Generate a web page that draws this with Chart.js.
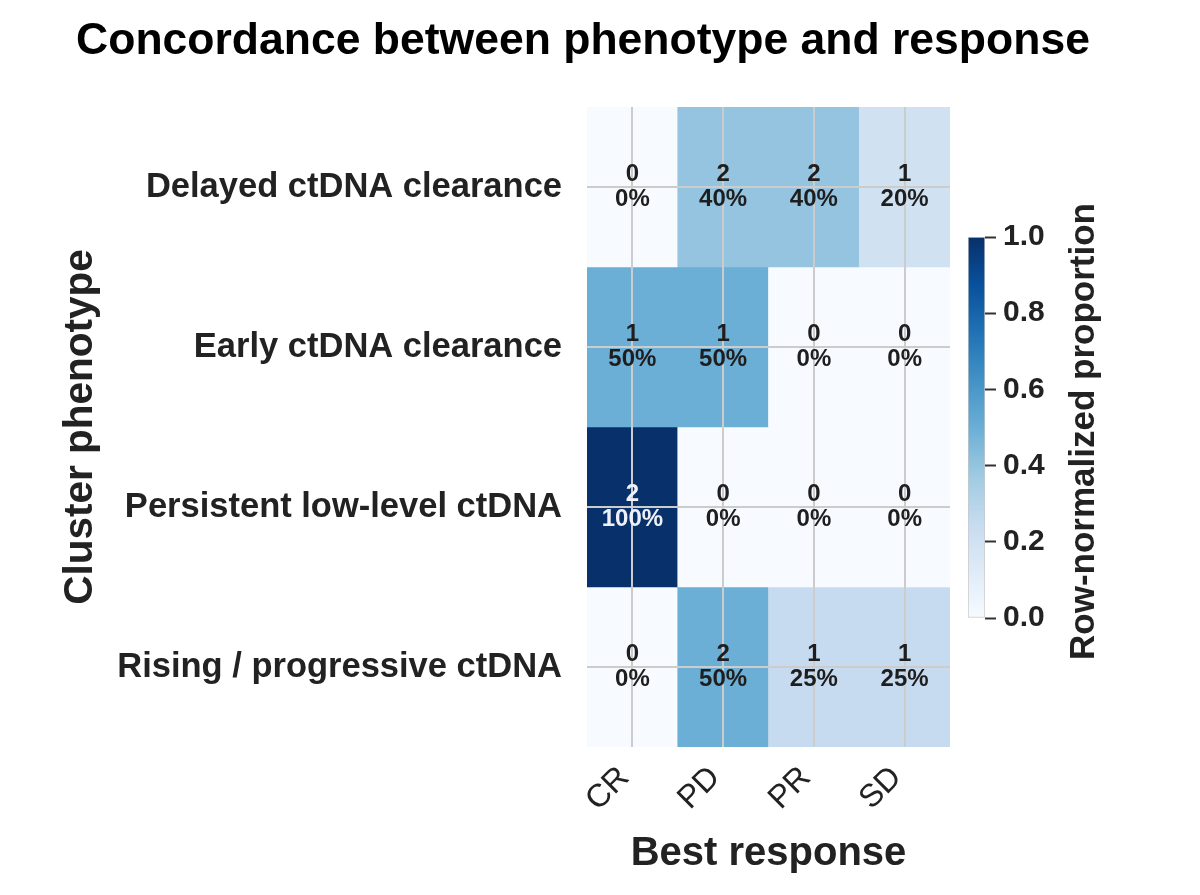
<!DOCTYPE html>
<html>
<head>
<meta charset="utf-8">
<script src="https://cdn.jsdelivr.net/npm/chart.js@4.4.1/dist/chart.umd.min.js"></script>
<style>
  html, body { margin: 0; padding: 0; background: #ffffff; }
  #wrap { position: relative; width: 1200px; height: 895px; }
  #main { position: absolute; left: 0; top: 0; }
  #cbar { position: absolute; left: 950px; top: 0; }
</style>
</head>
<body>
<div id="wrap">
  <canvas id="main" width="1200" height="895"></canvas>
  <canvas id="cbar" width="250" height="895"></canvas>
</div>
<script>
// ---- data ----
const chartTitle = 'Concordance between phenotype and response';
const categories = ['CR', 'PD', 'PR', 'SD'];
const phenotypes = ['Delayed ctDNA clearance', 'Early ctDNA clearance', 'Persistent low-level ctDNA', 'Rising / progressive ctDNA'];
const counts = [
  [0, 2, 2, 1],
  [1, 1, 0, 0],
  [2, 0, 0, 0],
  [0, 2, 1, 1]
];
const proportions = [
  [0, 0.40, 0.40, 0.20],
  [0.50, 0.50, 0, 0],
  [1.00, 0, 0, 0],
  [0, 0.50, 0.25, 0.25]
];
const colorbarTicks = [0.0, 0.2, 0.4, 0.6, 0.8, 1.0];
const xTitle = 'Best response';
const yTitle = 'Cluster phenotype';
const cbarTitle = 'Row-normalized proportion';

// ---- colormap (matplotlib Blues) ----
const bluesStops = ['#f7fbff', '#deebf7', '#c6dbef', '#9ecae1', '#6baed6', '#4292c6', '#2171b5', '#08519c', '#08306b'];
function hexToRgb(h) { return [parseInt(h.substr(1, 2), 16), parseInt(h.substr(3, 2), 16), parseInt(h.substr(5, 2), 16)]; }
function blues(v) {
  v = Math.max(0, Math.min(1, v));
  const n = bluesStops.length - 1;
  const p = v * n;
  const i = Math.min(Math.floor(p), n - 1);
  const t = p - i;
  const a = hexToRgb(bluesStops[i]), b = hexToRgb(bluesStops[i + 1]);
  const c = a.map((x, k) => Math.round(x + (b[k] - x) * t));
  return 'rgb(' + c.join(',') + ')';
}

const FONT = "'Liberation Sans', Arial, Helvetica, sans-serif";
const GRID = '#cccccc';

// ---- main heatmap ----
const datasets = phenotypes.map((p, r) => ({
  label: p,
  data: categories.map(() => [r, r + 1]),
  backgroundColor: proportions[r].map(blues),
  borderWidth: 0,
  grouped: false,
  barPercentage: 1,
  categoryPercentage: 1
}));

const cellText = {
  id: 'cellText',
  afterDraw(chart) {
    const ctx = chart.ctx;
    ctx.save();
    ctx.textAlign = 'center';
    ctx.textBaseline = 'middle';
    ctx.font = 'bold 24px ' + FONT;
    chart.data.datasets.forEach((ds, r) => {
      const meta = chart.getDatasetMeta(r);
      meta.data.forEach((el, c) => {
        const cy = (el.y + el.base) / 2;
        const v = proportions[r][c];
        ctx.fillStyle = v > 0.6 ? '#eef2f8' : '#1e1e1e';
        ctx.fillText(String(counts[r][c]), el.x, cy - 13);
        ctx.fillText(Math.round(v * 100) + '%', el.x, cy + 12);
      });
    });
    // chart title
    ctx.fillStyle = '#000000';
    ctx.font = 'bold 44.5px ' + FONT;
    ctx.fillText(chartTitle, 583, 42);
    ctx.restore();
  }
};

new Chart(document.getElementById('main'), {
  type: 'bar',
  data: { labels: categories, datasets: datasets },
  options: {
    responsive: false,
    animation: false,
    layout: { padding: { left: 57, top: 107, right: 250, bottom: 0 } },
    plugins: { legend: { display: false }, title: { display: false }, tooltip: { enabled: false } },
    scales: {
      x: {
        type: 'category',
        offset: true,
        border: { display: false },
        grid: { offset: false, color: GRID, lineWidth: 2, drawTicks: false, z: 1 },
        ticks: {
          color: '#222222',
          font: { family: FONT, size: 32, weight: 'normal' },
          minRotation: 45, maxRotation: 45, padding: 12, labelOffset: -8
        },
        title: {
          display: true, text: xTitle, color: '#222222',
          font: { family: FONT, size: 40, weight: 'bold' },
          padding: { top: 0, bottom: 17 }
        },
        afterFit(scale) { scale.height = 148; }
      },
      y: {
        type: 'linear',
        min: 0, max: phenotypes.length,
        reverse: true,
        border: { display: false },
        grid: { color: GRID, lineWidth: 2, drawTicks: false, z: 1 },
        afterBuildTicks(scale) { scale.ticks = phenotypes.map((_, i) => ({ value: i + 0.5 })); },
        ticks: {
          color: '#222222',
          font: { family: FONT, size: 34.5, weight: 'bold' },
          padding: 25,
          callback: (v) => phenotypes[Math.floor(v)]
        },
        title: {
          display: true, text: yTitle, color: '#222222',
          font: { family: FONT, size: 40.5, weight: 'bold' },
          padding: { top: 0, bottom: 0 }
        },
        afterFit(scale) { scale.width = 530; }
      }
    }
  },
  plugins: [cellText]
});

// ---- colorbar ----
const cbarTitlePlugin = {
  id: 'cbarTitle',
  afterDraw(chart) {
    const ctx = chart.ctx;
    const a = chart.chartArea;
    ctx.save();
    ctx.translate(134, (a.top + a.bottom) / 2 + 4);
    ctx.rotate(-Math.PI / 2);
    ctx.textAlign = 'center';
    ctx.textBaseline = 'middle';
    ctx.fillStyle = '#222222';
    ctx.font = 'bold 35px ' + FONT;
    ctx.fillText(cbarTitle, 0, 0);
    ctx.restore();
  }
};

new Chart(document.getElementById('cbar'), {
  type: 'bar',
  data: {
    labels: [''],
    datasets: [{
      data: [[colorbarTicks[0], colorbarTicks[colorbarTicks.length - 1]]],
      barPercentage: 1, categoryPercentage: 1,
      borderWidth: 1, borderColor: '#c8c8c8', borderSkipped: false,
      backgroundColor(ctx) {
        const area = ctx.chart.chartArea;
        if (!area) return blues(0.5);
        const g = ctx.chart.ctx.createLinearGradient(0, area.bottom, 0, area.top);
        bluesStops.forEach((c, i) => g.addColorStop(i / (bluesStops.length - 1), c));
        return g;
      }
    }]
  },
  options: {
    responsive: false,
    animation: false,
    layout: { padding: { left: 18, top: 237, right: 0, bottom: 277 } },
    plugins: { legend: { display: false }, title: { display: false }, tooltip: { enabled: false } },
    scales: {
      x: { display: false, offset: true },
      y: {
        position: 'right',
        min: colorbarTicks[0], max: colorbarTicks[colorbarTicks.length - 1],
        border: { display: false },
        grid: { drawOnChartArea: false, drawTicks: true, tickLength: 11, tickColor: '#333333', tickWidth: 2 },
        afterBuildTicks(scale) { scale.ticks = colorbarTicks.map(v => ({ value: v })); },
        ticks: {
          color: '#222222',
          font: { family: FONT, size: 30, weight: 'bold' },
          padding: 7,
          callback: (v) => Number(v).toFixed(1)
        },
        afterFit(scale) { scale.width = 215; }
      }
    }
  },
  plugins: [cbarTitlePlugin]
});
</script>
</body>
</html>
